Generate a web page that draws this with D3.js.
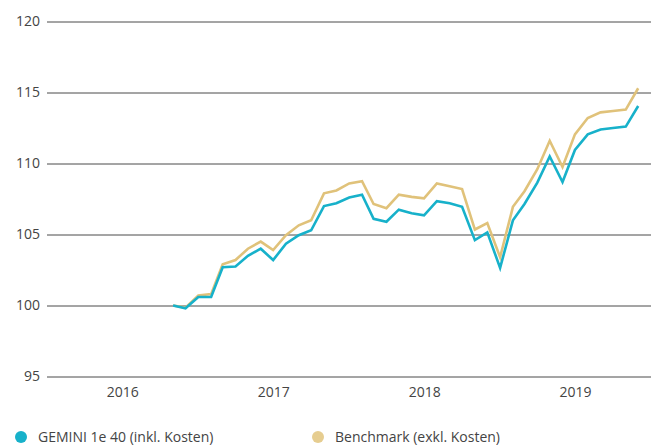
<!DOCTYPE html>
<html>
<head>
<meta charset="utf-8">
<script src="https://cdn.jsdelivr.net/npm/d3@7"></script>
<style>
  body { margin: 0; background: #fff; }
  #chart text { font-family: "Open Sans", Lato, sans-serif; fill: #444; }
</style>
</head>
<body>
<div id="chart"></div>
<script>
// months: first day of the month after each monthly value
var months = [
  "2016-11", "2016-12", "2017-01", "2017-02", "2017-03", "2017-04", "2017-05", "2017-06",
  "2017-07", "2017-08", "2017-09", "2017-10", "2017-11", "2017-12", "2018-01", "2018-02",
  "2018-03", "2018-04", "2018-05", "2018-06", "2018-07", "2018-08", "2018-09", "2018-10",
  "2018-11", "2018-12", "2019-01", "2019-02", "2019-03", "2019-04", "2019-05", "2019-06",
  "2019-07", "2019-08", "2019-09", "2019-10", "2019-11", "2019-12"
];
var gemini = [
  100.0, 99.8, 100.6, 100.6, 102.7, 102.75, 103.5, 104.0,
  103.2, 104.35, 104.95, 105.3, 107.0, 107.2, 107.6, 107.8,
  106.1, 105.9, 106.75, 106.5, 106.35, 107.35, 107.2, 106.95,
  104.6, 105.15, 102.65, 106.0, 107.15, 108.65, 110.5, 108.7,
  110.95, 112.05, 112.4, 112.5, 112.6, 114.05
];
var benchmark = [
  100.0, 99.85, 100.7, 100.8, 102.9, 103.2, 104.0, 104.5,
  103.9, 104.95, 105.65, 106.0, 107.9, 108.1, 108.6, 108.75,
  107.15, 106.85, 107.8, 107.65, 107.55, 108.6, 108.4, 108.2,
  105.35, 105.8, 103.4, 106.95, 108.05, 109.6, 111.6, 109.75,
  112.05, 113.2, 113.6, 113.7, 113.8, 115.3
];
var yTicks = [95, 100, 105, 110, 115, 120];
var years = ["2016", "2017", "2018", "2019"];
var seriesNames = ["GEMINI 1e 40 (inkl. Kosten)", "Benchmark (exkl. Kosten)"];

var width = 655, height = 447;
var parseMonth = d3.timeParse("%Y-%m");

var svg = d3.select("#chart").append("svg")
  .attr("width", width)
  .attr("height", height);

var x = d3.scaleTime()
  .domain([new Date(2016, 0, 1), new Date(2020, 0, 1)])
  .range([47, 651]);

var y = d3.scaleLinear()
  .domain([95, 120])
  .range([376.5, 21.5]);

// horizontal grid
var yAxis = svg.append("g")
  .attr("transform", "translate(47,0)")
  .call(d3.axisRight(y).tickValues(yTicks).tickSize(604).tickFormat(""));
yAxis.select(".domain").remove();
yAxis.selectAll("line")
  .attr("stroke", "#4a4a4a")
  .attr("stroke-width", 1);

svg.append("g").selectAll("text")
  .data(yTicks)
  .enter().append("text")
    .attr("x", 40)
    .attr("y", function (d) { return y(d); })
    .attr("dy", "0.35em")
    .attr("text-anchor", "end")
    .style("font-size", "14px")
    .text(function (d) { return d; });

// year labels centered in each year
svg.append("g").selectAll("text")
  .data(years)
  .enter().append("text")
    .attr("x", function (d) {
      var yr = +d;
      return (x(new Date(yr, 0, 1)) + x(new Date(yr + 1, 0, 1))) / 2;
    })
    .attr("y", 392)
    .attr("dy", "0.35em")
    .attr("text-anchor", "middle")
    .style("font-size", "14px")
    .text(function (d) { return d; });

var line = d3.line()
  .x(function (d) { return x(d.date); })
  .y(function (d) { return y(d.value); });

function toPoints(values) {
  return values.map(function (v, i) {
    return { date: parseMonth(months[i]), value: v };
  });
}

var colors = ["#17b1ca", "#e0c27a"];
var legendColors = ["#17b1ca", "#e6cd90"];

svg.append("path")
  .datum(toPoints(benchmark))
  .attr("fill", "none")
  .attr("stroke", colors[1])
  .attr("stroke-width", 2.6)
  .attr("stroke-linejoin", "miter")
  .attr("d", line);

svg.append("path")
  .datum(toPoints(gemini))
  .attr("fill", "none")
  .attr("stroke", colors[0])
  .attr("stroke-width", 2.6)
  .attr("stroke-linejoin", "miter")
  .attr("d", line);

// legend
var legend = svg.append("g").selectAll("g")
  .data(seriesNames)
  .enter().append("g")
    .attr("transform", function (d, i) { return "translate(" + (i === 0 ? 21 : 318) + ",437)"; });

legend.append("circle")
  .attr("r", 6)
  .attr("fill", function (d, i) { return legendColors[i]; });

legend.append("text")
  .attr("x", 17)
  .attr("dy", "0.35em")
  .style("font-size", "14px")
  .text(function (d) { return d; });
</script>
</body>
</html>
